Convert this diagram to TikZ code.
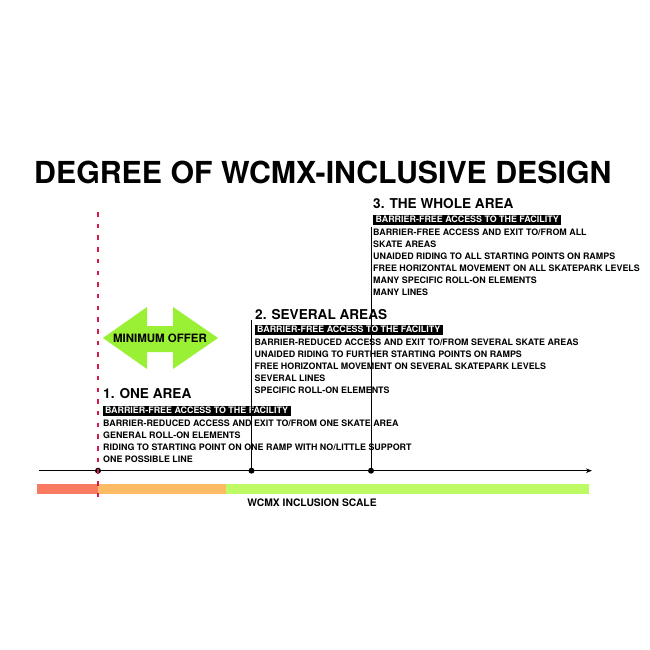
\documentclass[tikz,border=0pt]{standalone}
\usepackage{fontspec}
\setmainfont{TeX Gyre Heros}
\usetikzlibrary{arrows.meta}
\definecolor{redbar}{RGB}{248,122,96}
\definecolor{orangebar}{RGB}{253,187,102}
\definecolor{greenbar}{RGB}{190,250,100}
\definecolor{arrowgreen}{RGB}{153,240,52}
\definecolor{dashred}{RGB}{216,24,70}
\tikzset{
  heading/.style={anchor=base west,inner sep=0pt,font=\fontsize{13.6}{14}\selectfont\bfseries},
  item/.style={anchor=base west,inner sep=0pt,font=\fontsize{8.9}{10}\selectfont\bfseries},
  blackbox/.style={anchor=north west,fill=black,text=white,inner xsep=2.5pt,inner ysep=1.3pt,
    text height=6.4pt,text depth=1.1pt,font=\fontsize{8.9}{10}\selectfont\bfseries},
  dot/.style={circle,fill=black,inner sep=0pt,minimum size=6pt},
  connector/.style={draw=black,line width=0.9pt},
  minline/.style={draw=dashred,line width=2.4pt,dash pattern=on 4.5pt off 7.2pt}
}
\begin{document}
\begin{tikzpicture}[x=1pt,y=-1pt]
\fill[white] (0,0) rectangle (650,650);
\useasboundingbox (0,0) rectangle (650,650);

% title
\node[anchor=base west,inner sep=0pt,font=\fontsize{30.3}{32}\selectfont\bfseries] (title) at (34,183) {DEGREE OF WCMX-INCLUSIVE DESIGN};

% scale bars
\fill[redbar] (37,484) rectangle (98,494);
\fill[orangebar] (98,484) rectangle (226,494);
\fill[greenbar] (226,484) rectangle (589,494);
\node[anchor=base,inner sep=0pt,font=\fontsize{10.3}{12}\selectfont\bfseries] (scale) at (312,506) {WCMX INCLUSION SCALE};

% minimum offer arrow
\fill[arrowgreen] (103,338) -- (147,307) -- (147,326) -- (173,326) -- (173,307) -- (218,338)
  -- (173,369) -- (173,352) -- (147,352) -- (147,369) -- cycle;
\node[inner sep=0pt,font=\fontsize{11.5}{12}\selectfont\bfseries] (minoffer) at (160,338) {MINIMUM OFFER};

% section 3
\node[heading] (h3) at (373,208.3) {3. THE WHOLE AREA};
\node[blackbox] (b3) at (373,214.5) {BARRIER-FREE ACCESS TO THE FACILITY};
\node[item] (s3a) at (373,235) {BARRIER-FREE ACCESS AND EXIT TO/FROM ALL};
\node[item] (s3b) at (373,247) {SKATE AREAS};
\node[item] (s3c) at (373,259) {UNAIDED RIDING TO ALL STARTING POINTS ON RAMPS};
\node[item] (s3d) at (373,271) {FREE HORIZONTAL MOVEMENT ON ALL SKATEPARK LEVELS};
\node[item] (s3e) at (373,283.3) {MANY SPECIFIC ROLL-ON ELEMENTS};
\node[item] (s3f) at (373,295.5) {MANY LINES};

% section 2
\node[heading] (h2) at (255,319) {2. SEVERAL AREAS};
\node[blackbox] (b2) at (254.5,324.5) {BARRIER-FREE ACCESS TO THE FACILITY};
\node[item] (s2a) at (254.5,345.7) {BARRIER-REDUCED ACCESS AND EXIT TO/FROM SEVERAL SKATE AREAS};
\node[item] (s2b) at (254.5,357.5) {UNAIDED RIDING TO FURTHER STARTING POINTS ON RAMPS};
\node[item] (s2c) at (254.5,369.4) {FREE HORIZONTAL MOVEMENT ON SEVERAL SKATEPARK LEVELS};
\node[item] (s2d) at (254.5,381.3) {SEVERAL LINES};
\node[item] (s2e) at (254.5,393.3) {SPECIFIC ROLL-ON ELEMENTS};

% section 1
\node[heading] (h1) at (103,398) {1. ONE AREA};
\node[blackbox] (b1) at (102.3,405.5) {BARRIER-FREE ACCESS TO THE FACILITY};
\node[item] (s1a) at (103,426.7) {BARRIER-REDUCED ACCESS AND EXIT TO/FROM ONE SKATE AREA};
\node[item] (s1b) at (103,438.5) {GENERAL ROLL-ON ELEMENTS};
\node[item] (s1c) at (103,450.5) {RIDING TO STARTING POINT ON ONE RAMP WITH NO/LITTLE SUPPORT};
\node[item] (s1d) at (103,462.5) {ONE POSSIBLE LINE};

% axis
\coordinate (ax0) at (39,470.7);
\coordinate (ax1) at (592,470.7);
\draw[line width=1.2pt,-{Stealth[length=6pt,width=4.5pt]}] (ax0) -- (ax1);

% dots and connectors
\node[dot] (d1) at (98,470.7) {};
\node[dot] (d2) at (251.5,470.7) {};
\node[dot] (d3) at (371,470.7) {};
\coordinate (t2) at (251.5,320);
\coordinate (t3) at (371,227);
\draw[connector] (d2.center) -- (t2);
\draw[connector] (d3.center) -- (t3);

% minimum offer dashed line
\coordinate (m0) at (98,212);
\coordinate (m1) at (98,500);
\draw[minline] (m0) -- (m1);
\end{tikzpicture}
\end{document}
